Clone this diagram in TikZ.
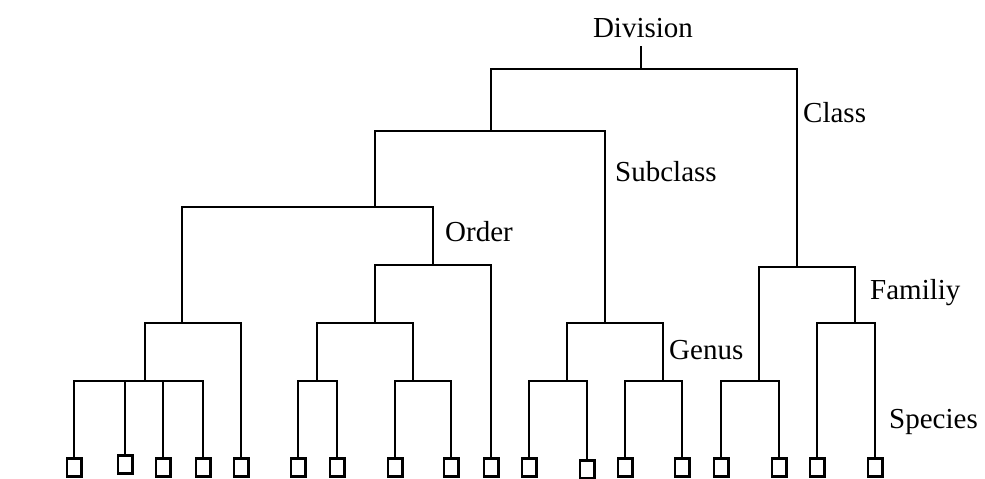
\documentclass[tikz,border=0pt]{standalone}
\usepackage{fontspec}
\setmainfont{Liberation Serif}
\begin{document}
\begin{tikzpicture}[x=1pt,y=-1pt,
  branch/.style={line width=1.6pt, line join=miter, line cap=rect},
  leafbox/.style={draw, line width=2.6pt, minimum width=14.4pt, minimum height=18.4pt, inner sep=0pt},
  rank/.style={anchor=west, inner sep=0pt, font=\fontsize{29}{32}\selectfont},
]
\useasboundingbox (0,0) rectangle (985,479);

% species boxes
\foreach \i/\x/\y in {1/74/467.5, 2/125/464.5, 3/163/467.5, 4/203/467.5, 5/241/467.5,
                      6/298/467.5, 7/337/467.5, 8/395/467.5, 9/451/467.5, 10/491/467.5,
                      11/529/467.5, 12/587/469.5, 13/625/467.5, 14/682/467.5,
                      15/721/467.5, 16/779/467.5, 17/817/467.5, 18/875/467.5}
  \node[leafbox] (l\i) at (\x,\y) {};

% branching points (x of the incoming stem, y of the bar)
\coordinate (R) at (641,69);
\coordinate (A) at (491,131);
\coordinate (B) at (375,207);
\coordinate (D) at (182,323);
\coordinate (F) at (145,381);
\coordinate (E) at (433,265);
\coordinate (H) at (375,323);
\coordinate (I) at (317,381);
\coordinate (J) at (413,381);
\coordinate (G) at (605,323);
\coordinate (K) at (567,381);
\coordinate (M) at (663,381);
\coordinate (C) at (797,267);
\coordinate (N) at (759,381);
\coordinate (P) at (855,323);

% rank labels
\node[rank, anchor=south] (div) at (643,38) {Division};
\node[rank] (cls) at (803,113) {Class};
\node[rank] (scl) at (615,172) {Subclass};
\node[rank] (ord) at (445,232) {Order};
\node[rank] (fam) at (870,293) {Familiy};
\node[rank] (gen) at (669,350) {Genus};
\node[rank] (spc) at (889,422) {Species};

% tree
\draw[branch] ([yshift=-9pt]div.south -| R) -- (R);
\draw[branch] (R) -| (A);
\draw[branch] (R) -| (C);
\draw[branch] (A) -| (B);
\draw[branch] (A) -| (G);
\draw[branch] (B) -| (D);
\draw[branch] (B) -| (E);
\draw[branch] (D) -| (F);
\draw[branch] (D) -| (l5.north);
\foreach \k in {1,2,3,4} \draw[branch] (F) -| (l\k.north);
\draw[branch] (E) -| (H);
\draw[branch] (E) -| (l10.north);
\draw[branch] (H) -| (I);
\draw[branch] (H) -| (J);
\draw[branch] (I) -| (l6.north);
\draw[branch] (I) -| (l7.north);
\draw[branch] (J) -| (l8.north);
\draw[branch] (J) -| (l9.north);
\draw[branch] (G) -| (K);
\draw[branch] (G) -| (M);
\draw[branch] (K) -| (l11.north);
\draw[branch] (K) -| (l12.north);
\draw[branch] (M) -| (l13.north);
\draw[branch] (M) -| (l14.north);
\draw[branch] (C) -| (N);
\draw[branch] (C) -| (P);
\draw[branch] (N) -| (l15.north);
\draw[branch] (N) -| (l16.north);
\draw[branch] (P) -| (l17.north);
\draw[branch] (P) -| (l18.north);
\end{tikzpicture}
\end{document}
